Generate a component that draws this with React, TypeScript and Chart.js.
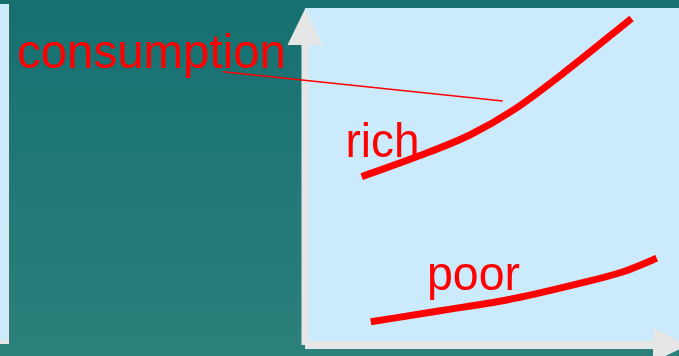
import React, { useEffect, useRef } from 'react';
import { Chart, registerables } from 'chart.js';

Chart.register(...registerables);

// Data (income on x, consumption on y, arbitrary units)
const richIncome = [1.62, 3.19, 4.71, 5.95, 7.38, 9.33];
const richConsumption = [5.01, 5.6, 6.25, 6.99, 8.09, 9.72];
const poorIncome = [1.88, 3.86, 5.76, 7.67, 9.09, 10.05];
const poorConsumption = [0.69, 1.02, 1.34, 1.79, 2.18, 2.58];
const pointerIncome = [-2.34, 5.65];
const pointerConsumption = [8.13, 7.26];
const axisTitle = 'consumption';
const seriesNames = ['rich', 'poor'];

const W = 679;
const H = 356;
const X_MIN = -8.714;
const X_MAX = 10.686;
const Y_MIN = -0.327;
const Y_MAX = 10.268;

const RED = '#ff0000';
const GRAY = '#e6e6e6';
const PANEL = '#cbebfd';

function drawLabel(ctx: CanvasRenderingContext2D, text: string, left: number, baseline: number, width: number, size: number) {
  ctx.save();
  ctx.font = `${size}px "Liberation Sans", Arial, sans-serif`;
  ctx.fillStyle = RED;
  ctx.textBaseline = 'alphabetic';
  ctx.textAlign = 'left';
  const m = ctx.measureText(text).width;
  const sx = width / m;
  ctx.translate(left, baseline);
  ctx.scale(sx, 1);
  ctx.fillText(text, 0, 0);
  ctx.restore();
}

const scenePlugin = {
  id: 'scene',
  beforeDatasetsDraw(chart: any) {
    const ctx: CanvasRenderingContext2D = chart.ctx;
    const xs = chart.scales.x;
    const ys = chart.scales.y;
    const ox = xs.getPixelForValue(0);
    const oy = ys.getPixelForValue(0);
    const xEnd = xs.getPixelForValue(10);
    const yEnd = ys.getPixelForValue(10);
    ctx.save();
    const g = ctx.createLinearGradient(0, 0, 0, H);
    g.addColorStop(0, '#167070');
    g.addColorStop(1, '#2c807c');
    ctx.fillStyle = g;
    ctx.fillRect(0, 0, W, H);
    ctx.fillStyle = PANEL;
    ctx.fillRect(0, 4, 8, 336);
    ctx.fillStyle = GRAY;
    ctx.fillRect(7.5, 4, 1.5, 337);
    ctx.fillRect(0, 340, 9, 4);
    ctx.fillStyle = PANEL;
    ctx.fillRect(ox, 8, W - ox, oy - 4 - 8);
    ctx.fillStyle = GRAY;
    ctx.fillRect(ox - 3.5, yEnd + 36, 7, oy - (yEnd + 36));
    ctx.beginPath();
    ctx.moveTo(ox, yEnd);
    ctx.lineTo(ox + 17.5, yEnd + 36);
    ctx.lineTo(ox - 17.5, yEnd + 36);
    ctx.closePath();
    ctx.fill();
    ctx.fillRect(ox, oy - 4, xEnd - 2 - ox, 8);
    ctx.beginPath();
    ctx.moveTo(xEnd - 2, oy - 17);
    ctx.lineTo(xEnd + 33, oy);
    ctx.lineTo(xEnd - 2, oy + 17);
    ctx.closePath();
    ctx.fill();
    ctx.restore();
  },
  afterDatasetsDraw(chart: any) {
    const ctx: CanvasRenderingContext2D = chart.ctx;
    drawLabel(ctx, axisTitle, 17, 68, 269, 48);
    drawLabel(ctx, seriesNames[0], 345.5, 157, 74, 48);
    drawLabel(ctx, seriesNames[1], 427, 290, 93, 48);
  },
};

function toPoints(xs: number[], ys: number[]) {
  return xs.map((x, i) => ({ x, y: ys[i] }));
}

export default function App() {
  const ref = useRef<HTMLCanvasElement | null>(null);
  useEffect(() => {
    if (!ref.current) return;
    const chart = new Chart(ref.current, {
      type: 'line',
      data: {
        datasets: [
          {
            label: seriesNames[0],
            data: toPoints(richIncome, richConsumption),
            borderColor: RED,
            borderWidth: 7,
            borderCapStyle: 'butt',
            pointRadius: 0,
            tension: 0.4,
            cubicInterpolationMode: 'monotone',
            fill: false,
          },
          {
            label: seriesNames[1],
            data: toPoints(poorIncome, poorConsumption),
            borderColor: RED,
            borderWidth: 7,
            borderCapStyle: 'butt',
            pointRadius: 0,
            tension: 0.4,
            cubicInterpolationMode: 'monotone',
            fill: false,
          },
          {
            label: 'pointer',
            data: toPoints(pointerIncome, pointerConsumption),
            borderColor: RED,
            borderWidth: 1.5,
            pointRadius: 0,
            tension: 0,
            fill: false,
          },
        ],
      },
      options: {
        animation: false,
        responsive: false,
        devicePixelRatio: 1,
        layout: { padding: 0 },
        plugins: { legend: { display: false }, tooltip: { enabled: false }, title: { display: false } },
        scales: {
          x: { type: 'linear', min: X_MIN, max: X_MAX, display: false },
          y: { type: 'linear', min: Y_MIN, max: Y_MAX, display: false },
        },
      } as any,
      plugins: [scenePlugin],
    });
    return () => chart.destroy();
  }, []);
  return (
    <div style={{ position: 'absolute', left: 0, top: 0, width: W, height: H }}>
      <canvas ref={ref} width={W} height={H} style={{ display: 'block' }} />
    </div>
  );
}
